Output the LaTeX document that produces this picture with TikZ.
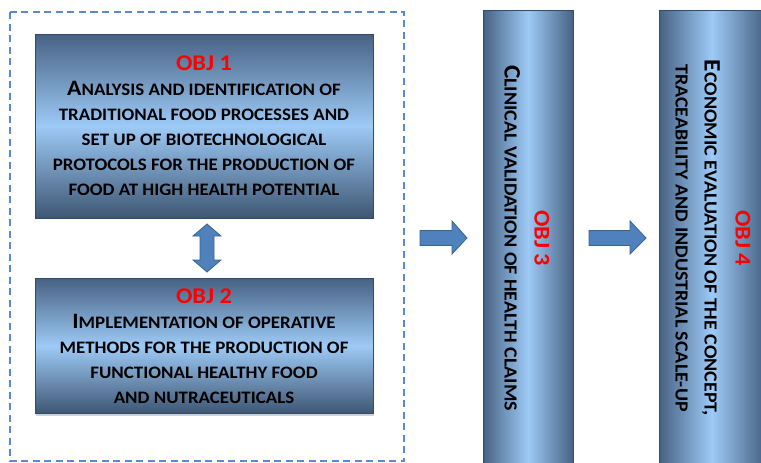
\documentclass[tikz,border=0pt]{standalone}
\usepackage{fontspec}
\setmainfont[FakeStretch=1.08]{Carlito}
\definecolor{bdark}{HTML}{476283}
\definecolor{bdarkb}{HTML}{3E5673}
\definecolor{blight}{HTML}{9DCAF6}
\definecolor{bedge}{HTML}{2F4B70}
\definecolor{arrfill}{HTML}{4F81BD}
\definecolor{arrline}{HTML}{3A6291}
\definecolor{dashc}{HTML}{5A8ACB}
\definecolor{objred}{HTML}{FF0000}
\newcommand\Ini[1]{{\fontsize{22pt}{25pt}\selectfont #1}}
\newcommand\IniB[1]{{\fontsize{23.5pt}{29pt}\selectfont #1}}
\newcommand\Obj[1]{{\color{objred}\fontsize{22.5pt}{25pt}\selectfont #1}}
\begin{document}
\begin{tikzpicture}[x=1pt,y=-1pt,
  objbox/.style={draw=bedge, line width=0.8pt, rectangle, inner sep=0pt,
    top color=bdark, bottom color=bdarkb, middle color=blight,
    align=center, font=\bfseries\fontsize{17.5pt}{25pt}\selectfont},
  colbox/.style={draw=bedge, line width=0.8pt, rectangle, inner sep=0pt,
    left color=bdark, right color=bdark, middle color=blight},
  coltext/.style={rotate=-90, align=center, font=\bfseries\fontsize{18.5pt}{29pt}\selectfont},
  blockarrow/.style={fill=arrfill, draw=arrline, line width=0.8pt, line join=miter},
  dashbox/.style={draw=dashc, line width=2.2pt, dash pattern=on 7pt off 4.5pt}
]
\useasboundingbox (0,0) rectangle (761,463);

% dashed frame
\draw[dashbox] (10,12) rectangle (404,461);

% OBJ 2 shadow and box
\fill[black!18] (36,280) rectangle (374,415.5);
\node[objbox, minimum width=338pt, minimum height=135pt] (o2) at (204,346)
  {\Obj{OBJ 2}\\
   \Ini{I}MPLEMENTATION OF OPERATIVE\\
   METHODS FOR THE PRODUCTION OF\\
   FUNCTIONAL HEALTHY FOOD\\
   AND NUTRACEUTICALS};

% OBJ 1 box
\node[objbox, minimum width=338pt, minimum height=184pt] (o1) at (204,126)
  {\Obj{OBJ 1}\\
   \Ini{A}NALYSIS AND IDENTIFICATION OF\\
   TRADITIONAL FOOD PROCESSES AND\\
   SET UP OF BIOTECHNOLOGICAL\\
   PROTOCOLS FOR THE PRODUCTION OF\\
   FOOD AT HIGH HEALTH POTENTIAL};

% columns
\node[colbox, minimum width=90pt, minimum height=470pt] (o3) at (528,245) {};
\node[colbox, minimum width=106pt, minimum height=470pt] (o4) at (712,245) {};

\node[coltext] (t3) at (527,238)
  {\Obj{OBJ 3}\\[1pt]
   \IniB{C}LINICAL VALIDATION OF HEALTH CLAIMS};
\node[coltext] (t4) at (713,238)
  {\Obj{OBJ 4}\\[2pt]
   \IniB{E}CONOMIC EVALUATION OF THE CONCEPT,\\
   TRACEABILITY AND INDUSTRIAL SCALE-UP};

% double arrow between OBJ1 and OBJ2
\draw[blockarrow] (207,224) -- (221,236) -- (214,236) -- (214,260) -- (221,260)
  -- (207,272) -- (193,260) -- (200,260) -- (200,236) -- (193,236) -- cycle;

% arrows to columns
\draw[blockarrow] (420,230.5) -- (452,230.5) -- (452,221) -- (467,238) -- (452,254)
  -- (452,245.5) -- (420,245.5) -- cycle;
\draw[blockarrow] (589,230.5) -- (630,230.5) -- (630,221) -- (646,238) -- (630,254)
  -- (630,245.5) -- (589,245.5) -- cycle;
\end{tikzpicture}
\end{document}
